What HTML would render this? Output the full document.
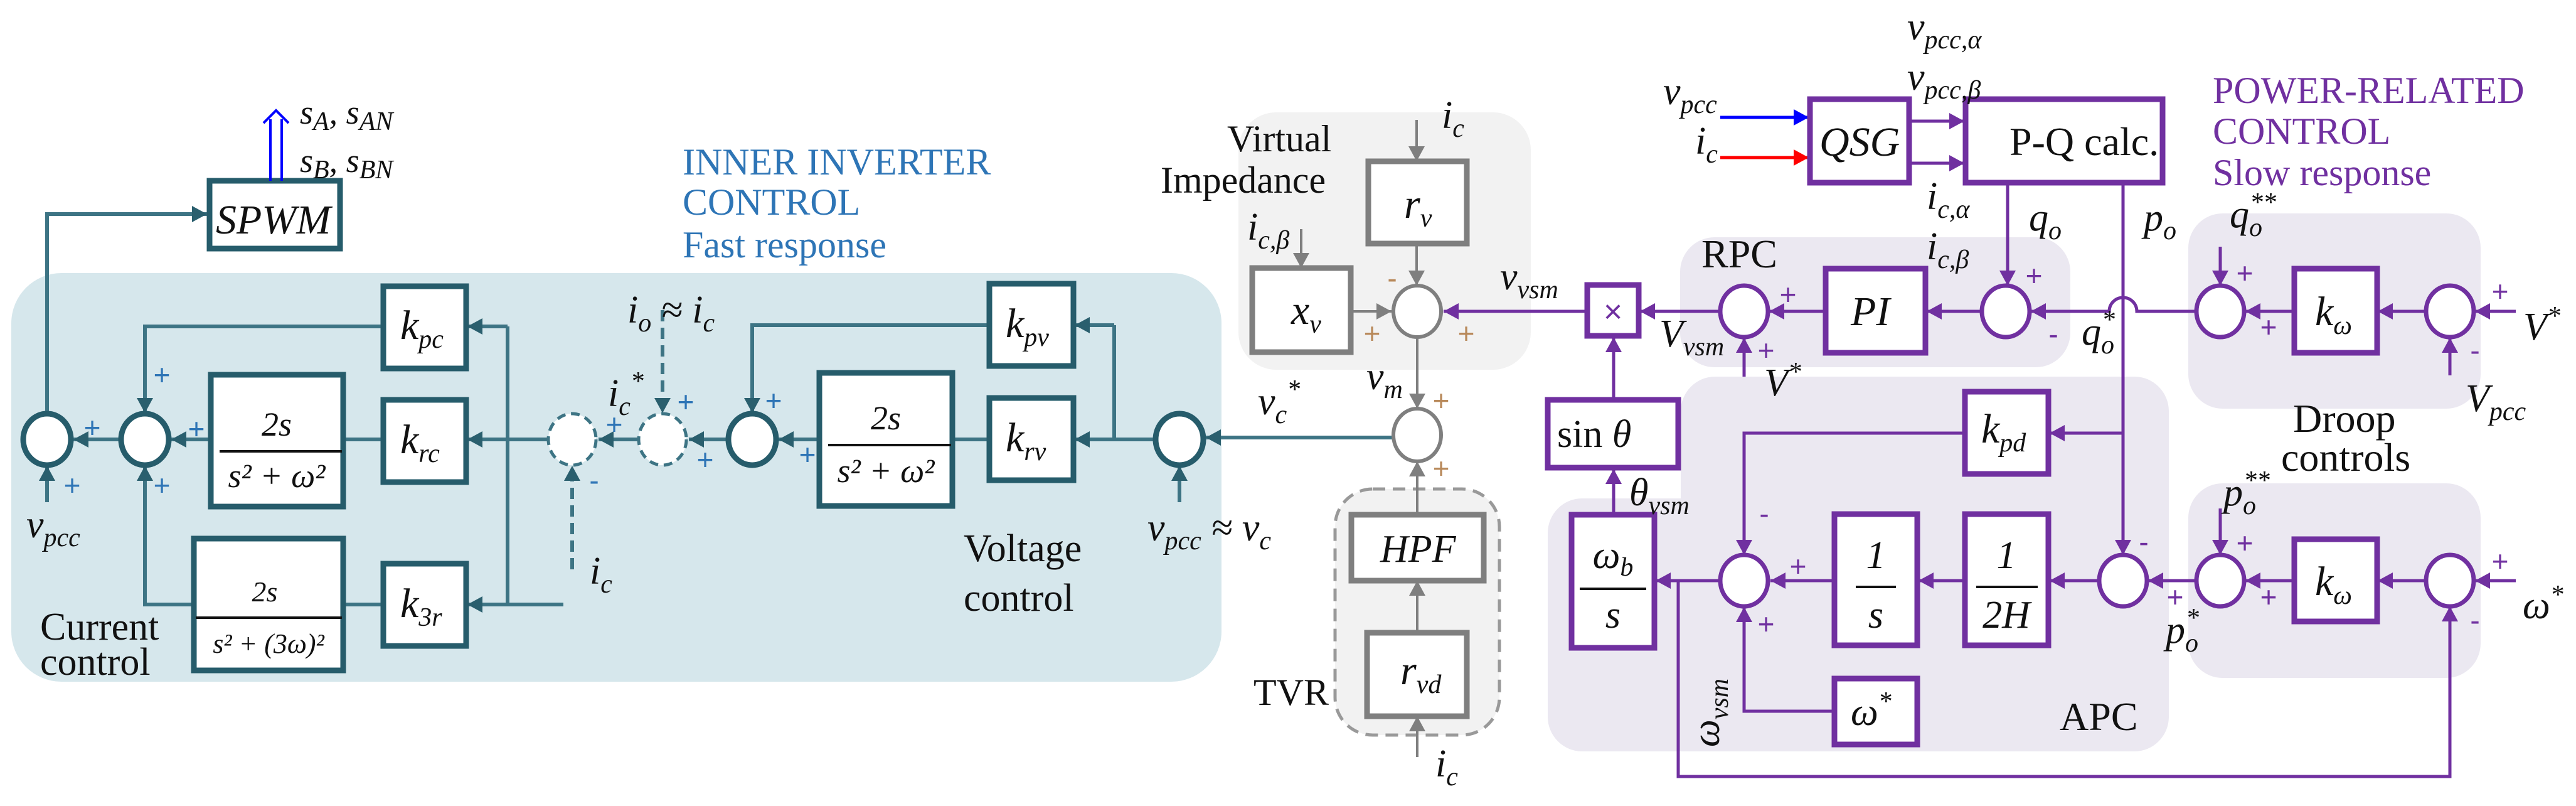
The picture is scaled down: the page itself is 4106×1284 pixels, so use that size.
<!DOCTYPE html>
<html><head><meta charset="utf-8"><style>
html,body{margin:0;padding:0;background:#fff;}
svg{display:block}
.m{font-family:"Liberation Serif",serif;font-style:italic;font-size:62px;fill:#111}
.s{font-size:42px}
.r{font-family:"Liberation Serif",serif;fill:#111}
.ps{font-family:"Liberation Sans",sans-serif;font-size:46px;text-anchor:middle}
</style></head><body>
<svg width="4106" height="1284" viewBox="0 0 4106 1284" xmlns="http://www.w3.org/2000/svg">
<defs>
<marker id="aT" markerUnits="userSpaceOnUse" markerWidth="26" markerHeight="26" refX="24" refY="13" orient="auto"><path d="M0,0 L24,13 L0,26 z" fill="#2a5f6e"/></marker>
<marker id="aG" markerUnits="userSpaceOnUse" markerWidth="26" markerHeight="26" refX="24" refY="13" orient="auto"><path d="M0,0 L24,13 L0,26 z" fill="#7f7f7f"/></marker>
<marker id="aP" markerUnits="userSpaceOnUse" markerWidth="26" markerHeight="26" refX="24" refY="13" orient="auto"><path d="M0,0 L24,13 L0,26 z" fill="#7030a0"/></marker>
<marker id="aB" markerUnits="userSpaceOnUse" markerWidth="26" markerHeight="26" refX="24" refY="13" orient="auto"><path d="M0,0 L24,13 L0,26 z" fill="#0000ff"/></marker>
<marker id="aR" markerUnits="userSpaceOnUse" markerWidth="26" markerHeight="26" refX="24" refY="13" orient="auto"><path d="M0,0 L24,13 L0,26 z" fill="#ff0000"/></marker>
</defs>

<!-- regions -->
<rect x="18" y="435" width="1929" height="651" rx="80" fill="#d6e7ec"/>
<rect x="1974" y="179" width="466" height="410" rx="60" fill="#f2f2f2"/>
<rect x="2128" y="779" width="262" height="392" rx="60" fill="#f2f2f2" stroke="#999" stroke-width="5" stroke-dasharray="20,12"/>
<rect x="2678" y="378" width="622" height="207" rx="55" fill="#ebe8f1"/>
<rect x="2679" y="600" width="778" height="597" rx="55" fill="#ebe8f1"/>
<rect x="2467" y="794" width="320" height="403" rx="55" fill="#ebe8f1"/>
<rect x="3488" y="340" width="466" height="311" rx="55" fill="#ebe8f1"/>
<rect x="3488" y="770" width="466" height="310" rx="55" fill="#ebe8f1"/>

<!-- titles -->
<g font-family="Liberation Serif, serif" font-size="60" fill="#2e75b6">
<text x="1088" y="278">INNER  INVERTER</text><text x="1088" y="342">CONTROL</text><text x="1088" y="410">Fast response</text></g>
<g font-family="Liberation Serif, serif" font-size="60" fill="#7030a0">
<text x="3527" y="164">POWER-RELATED</text><text x="3527" y="229">CONTROL</text><text x="3527" y="295">Slow response</text></g>

<!-- ============ INNER (teal) ============ -->
<g fill="none" stroke="#3d7484" stroke-width="6">
<polyline points="75,660 75,341 330,341" marker-end="url(#aT)"/>
<line x1="191" y1="700" x2="117" y2="700" marker-end="url(#aT)"/>
<line x1="336" y1="700" x2="273" y2="700" marker-end="url(#aT)"/>
<line x1="611" y1="700" x2="547" y2="700"/>
<polyline points="611,520 231,520 231,658" marker-end="url(#aT)"/>
<line x1="898" y1="963" x2="547" y2="963"/>
<polyline points="309,963 231,963 231,742" marker-end="url(#aT)"/>
<line x1="809" y1="520" x2="809" y2="963"/>
<line x1="809" y1="520" x2="745" y2="520" marker-end="url(#aT)"/>
<line x1="809" y1="963" x2="745" y2="963" marker-end="url(#aT)"/>
<line x1="872" y1="700" x2="745" y2="700" marker-end="url(#aT)"/>
<line x1="1016" y1="700" x2="954" y2="700" marker-end="url(#aT)"/>
<line x1="1159" y1="700" x2="1098" y2="700" marker-end="url(#aT)"/>
<line x1="912" y1="907" x2="912" y2="742" stroke-dasharray="18,10" marker-end="url(#aT)"/>
<line x1="1056" y1="494" x2="1056" y2="658" stroke-dasharray="18,10" marker-end="url(#aT)"/>
<line x1="1306" y1="700" x2="1241" y2="700" marker-end="url(#aT)"/>
<line x1="1577" y1="700" x2="1518" y2="700"/>
<polyline points="1577,518 1199,518 1199,658" marker-end="url(#aT)"/>
<line x1="1776" y1="518" x2="1776" y2="700"/>
<line x1="1776" y1="518" x2="1713" y2="518" marker-end="url(#aT)"/>
<line x1="1840" y1="700" x2="1713" y2="700" marker-end="url(#aT)"/>
<line x1="1880" y1="800" x2="1880" y2="742" marker-end="url(#aT)"/>
<line x1="75" y1="800" x2="75" y2="742" marker-end="url(#aT)"/>
<line x1="2219" y1="697" x2="1922" y2="697" marker-end="url(#aT)"/>
</g>
<g fill="#fff" stroke="#265c6b" stroke-width="9">
<rect x="334" y="288" width="208" height="108"/>
<rect x="611" y="456" width="132" height="131"/>
<rect x="611" y="637" width="132" height="131"/>
<rect x="611" y="898" width="132" height="131"/>
<rect x="336" y="597" width="211" height="210"/>
<rect x="309" y="858" width="238" height="210"/>
<rect x="1577" y="452" width="134" height="131"/>
<rect x="1577" y="634" width="134" height="131"/>
<rect x="1306" y="594" width="212" height="212"/>
<ellipse cx="75" cy="700" rx="38" ry="41"/>
<ellipse cx="231" cy="700" rx="38" ry="41"/>
<ellipse cx="1199" cy="700" rx="38" ry="41"/>
<ellipse cx="1880" cy="700" rx="38" ry="41"/>
</g>
<g fill="#fff" stroke="#3d7484" stroke-width="5" stroke-dasharray="14,9">
<ellipse cx="912" cy="700" rx="38" ry="41"/>
<ellipse cx="1056" cy="700" rx="38" ry="41"/>
</g>
<g stroke="#111" stroke-width="4">
<line x1="350" y1="719" x2="545" y2="719"/>
<line x1="312" y1="984" x2="545" y2="984"/>
<line x1="1320" y1="709" x2="1516" y2="709"/>
</g>
<!-- SPWM outputs -->
<g stroke="#0000ff" stroke-width="4" fill="none">
<line x1="431" y1="288" x2="431" y2="190"/><line x1="449" y1="288" x2="449" y2="190"/>
<polyline points="420,196 440,176 460,196"/>
</g>
<text class="m" x="344" y="372" style="font-size:66px">SPWM</text>
<text class="m" x="478" y="197" style="font-size:54px">s<tspan class="s" dy="10">A</tspan><tspan dy="-10">, s</tspan><tspan class="s" dy="10">AN</tspan></text>
<text class="m" x="478" y="274" style="font-size:54px">s<tspan class="s" dy="10">B</tspan><tspan dy="-10">, s</tspan><tspan class="s" dy="10">BN</tspan></text>
<text class="m" x="638" y="540" style="font-size:66px">k<tspan class="s" dy="14">pc</tspan></text>
<text class="m" x="638" y="722" style="font-size:66px">k<tspan class="s" dy="14">rc</tspan></text>
<text class="m" x="638" y="983" style="font-size:66px">k<tspan class="s" dy="14">3r</tspan></text>
<text class="m" x="1603" y="537" style="font-size:66px">k<tspan class="s" dy="14">pv</tspan></text>
<text class="m" x="1603" y="719" style="font-size:66px">k<tspan class="s" dy="14">rv</tspan></text>
<g class="m" style="font-size:54px" text-anchor="middle">
<text x="441" y="694">2s</text><text x="441" y="776">s² + ω²</text>
<text x="422" y="958" style="font-size:46px">2s</text><text x="428" y="1040" style="font-size:44px">s² + (3ω)²</text>
<text x="1412" y="684">2s</text><text x="1412" y="768">s² + ω²</text>
</g>
<text class="m" x="42" y="856">v<tspan class="s" dy="14">pcc</tspan></text>
<text class="m" x="1829" y="861">v<tspan class="s" dy="14">pcc</tspan><tspan dy="-14"> ≈ v</tspan><tspan class="s" dy="14">c</tspan></text>
<text class="m" x="1000" y="514">i<tspan class="s" dy="14">o</tspan><tspan dy="-14">  ≈ i</tspan><tspan class="s" dy="14">c</tspan></text>
<text class="m" x="969" y="647">i<tspan class="s" dy="14">c</tspan><tspan class="s" dy="-40">*</tspan></text>
<text class="m" x="940" y="930">i<tspan class="s" dy="14">c</tspan></text>
<g class="r" font-size="62"><text x="64" y="1019">Current</text><text x="64" y="1075">control</text></g>
<g class="r" font-size="62"><text x="1536" y="894">Voltage</text><text x="1536" y="973">control</text></g>
<g class="ps" fill="#2e75b6">
<text x="147" y="697">+</text><text x="115" y="789">+</text><text x="258" y="613">+</text><text x="313" y="699">+</text><text x="258" y="789">+</text>
<text x="979" y="692">+</text><text x="947" y="781">-</text><text x="1093" y="656">+</text><text x="1124" y="748">+</text>
<text x="1233" y="654">+</text><text x="1287" y="740">+</text>
</g>

<!-- ============ GRAY ============ -->
<g fill="none" stroke="#7f7f7f" stroke-width="4">
<line x1="2258" y1="191" x2="2258" y2="257" marker-end="url(#aG)"/>
<line x1="2258" y1="388" x2="2258" y2="455" marker-end="url(#aG)"/>
<line x1="2153" y1="496" x2="2218" y2="496" marker-end="url(#aG)"/>
<line x1="2074" y1="365" x2="2074" y2="427" marker-end="url(#aG)"/>
<line x1="2259" y1="537" x2="2259" y2="651" marker-end="url(#aG)"/>
<line x1="2259" y1="820" x2="2259" y2="735" marker-end="url(#aG)"/>
<line x1="2259" y1="1008" x2="2259" y2="925" marker-end="url(#aG)"/>
<line x1="2259" y1="1206" x2="2259" y2="1141" marker-end="url(#aG)"/>
</g>
<g fill="#fff" stroke="#7f7f7f" stroke-width="9">
<rect x="2181" y="257" width="157" height="131"/>
<rect x="1996" y="427" width="157" height="134"/>
<rect x="2154" y="820" width="211" height="105"/>
<rect x="2179" y="1008" width="159" height="133"/>
</g>
<g fill="#fff" stroke="#7f7f7f" stroke-width="6">
<ellipse cx="2259" cy="496" rx="38" ry="41"/>
<ellipse cx="2259" cy="693" rx="38" ry="42"/>
</g>
<g class="r" font-size="60" fill="#404040"><text x="1956" y="241">Virtual</text><text x="1850" y="307">Impedance</text><text x="1998" y="1123">TVR</text></g>
<text class="m" x="2238" y="347" style="font-size:66px">r<tspan class="s" dy="14">v</tspan></text>
<text class="m" x="2058" y="516" style="font-size:66px">x<tspan class="s" dy="14">v</tspan></text>
<text class="m" x="2200" y="895" style="font-size:62px">HPF</text>
<text class="m" x="2232" y="1090" style="font-size:66px">r<tspan class="s" dy="14">vd</tspan></text>
<text class="m" x="2298" y="204">i<tspan class="s" dy="14">c</tspan></text>
<text class="m" x="1988" y="382">i<tspan class="s" dy="14">c,β</tspan></text>
<text class="m" x="2288" y="1237">i<tspan class="s" dy="14">c</tspan></text>
<text class="m" x="2178" y="620">v<tspan class="s" dy="14">m</tspan></text>
<text class="m" x="2005" y="660">v<tspan class="s" dy="14">c</tspan><tspan class="s" dy="-40">*</tspan></text>
<g class="ps" fill="#b8895a">
<text x="2219" y="459">-</text><text x="2187" y="547">+</text><text x="2337" y="547">+</text>
<text x="2297" y="654">+</text><text x="2297" y="762">+</text>
</g>

<!-- ============ PURPLE ============ -->
<g fill="none" stroke="#7030a0" stroke-width="5">
<line x1="2530" y1="496" x2="2301" y2="496" marker-end="url(#aP)"/>
<line x1="2742" y1="496" x2="2614" y2="496" marker-end="url(#aP)"/>
<line x1="2572" y1="637" x2="2572" y2="537" marker-end="url(#aP)"/>
<line x1="2572" y1="820" x2="2572" y2="747" marker-end="url(#aP)"/>
<line x1="2910" y1="496" x2="2820" y2="496" marker-end="url(#aP)"/>
<line x1="2780" y1="600" x2="2780" y2="538" marker-end="url(#aP)"/>
<line x1="3157" y1="496" x2="3071" y2="496" marker-end="url(#aP)"/>
<path d="M3501,496 H3406 A22,22 0 0 0 3362,496 H3237" marker-end="url(#aP)"/>
<line x1="3200" y1="291" x2="3200" y2="455" marker-end="url(#aP)"/>
<line x1="3384" y1="291" x2="3384" y2="884" marker-end="url(#aP)"/>
<line x1="3384" y1="690" x2="3267" y2="690" marker-end="url(#aP)"/>
<polyline points="3132,690 2780,690 2780,884" marker-end="url(#aP)"/>
<line x1="2924" y1="925" x2="2822" y2="925" marker-end="url(#aP)"/>
<line x1="2742" y1="925" x2="2639" y2="925" marker-end="url(#aP)"/>
<line x1="3132" y1="925" x2="3058" y2="925" marker-end="url(#aP)"/>
<line x1="3346" y1="925" x2="3267" y2="925" marker-end="url(#aP)"/>
<polyline points="2924,1133 2780,1133 2780,967" marker-end="url(#aP)"/>
<polyline points="2675,925 2675,1237 3905,1237 3905,966" marker-end="url(#aP)"/>
<line x1="3501" y1="925" x2="3424" y2="925" marker-end="url(#aP)"/>
<line x1="3657" y1="925" x2="3579" y2="925" marker-end="url(#aP)"/>
<line x1="3867" y1="925" x2="3790" y2="925" marker-end="url(#aP)"/>
<line x1="4010" y1="925" x2="3945" y2="925" marker-end="url(#aP)"/>
<line x1="3539" y1="810" x2="3539" y2="884" marker-end="url(#aP)"/>
<line x1="3657" y1="496" x2="3579" y2="496" marker-end="url(#aP)"/>
<line x1="3867" y1="496" x2="3790" y2="496" marker-end="url(#aP)"/>
<line x1="4010" y1="496" x2="3945" y2="496" marker-end="url(#aP)"/>
<line x1="3539" y1="393" x2="3539" y2="455" marker-end="url(#aP)"/>
<line x1="3905" y1="598" x2="3905" y2="538" marker-end="url(#aP)"/>
<line x1="3043" y1="193" x2="3131" y2="193" marker-end="url(#aP)"/>
<line x1="3043" y1="260" x2="3131" y2="260" marker-end="url(#aP)"/>
</g>
<line x1="2742" y1="187" x2="2883" y2="187" stroke="#0000ff" stroke-width="5" marker-end="url(#aB)"/>
<line x1="2742" y1="251" x2="2883" y2="251" stroke="#ff0000" stroke-width="5" marker-end="url(#aR)"/>
<g fill="#fff" stroke="#7030a0" stroke-width="9">
<rect x="2885" y="158" width="158" height="133"/>
<rect x="3133" y="158" width="314" height="133"/>
<rect x="2530" y="454" width="82" height="81"/>
<rect x="2910" y="428" width="159" height="134"/>
<rect x="2467" y="637" width="208" height="108"/>
<rect x="2505" y="820" width="132" height="212"/>
<rect x="2924" y="819" width="132" height="209"/>
<rect x="3132" y="819" width="133" height="209"/>
<rect x="3132" y="624" width="133" height="131"/>
<rect x="2924" y="1081" width="132" height="105"/>
<rect x="3657" y="428" width="132" height="134"/>
<rect x="3657" y="859" width="132" height="131"/>
</g>
<g fill="#fff" stroke="#7030a0" stroke-width="7">
<ellipse cx="2780" cy="496" rx="38" ry="41"/>
<ellipse cx="3197" cy="496" rx="38" ry="41"/>
<ellipse cx="3539" cy="496" rx="38" ry="41"/>
<ellipse cx="3905" cy="496" rx="38" ry="41"/>
<ellipse cx="2780" cy="925" rx="38" ry="41"/>
<ellipse cx="3384" cy="925" rx="38" ry="41"/>
<ellipse cx="3539" cy="925" rx="38" ry="41"/>
<ellipse cx="3905" cy="925" rx="38" ry="41"/>
</g>
<g stroke="#111" stroke-width="4">
<line x1="2518" y1="938" x2="2624" y2="938"/>
<line x1="2958" y1="935" x2="3022" y2="935"/>
<line x1="3150" y1="935" x2="3248" y2="935"/>
</g>
<text x="2571" y="514" font-family="Liberation Sans,sans-serif" font-size="52" fill="#7030a0" text-anchor="middle">×</text>
<text class="m" x="2900" y="248" style="font-size:66px">QSG</text>
<text class="r" x="3203" y="247" font-size="64">P-Q calc.</text>
<text class="m" x="2950" y="518" style="font-size:66px">PI</text>
<text class="r" x="2482" y="712" font-size="62">sin <tspan font-style="italic">θ</tspan></text>
<g class="m" text-anchor="middle" style="font-size:62px">
<text x="2571" y="905">ω<tspan class="s" dy="12">b</tspan></text><text x="2571" y="1000">s</text>
<text x="2990" y="905">1</text><text x="2990" y="1000">s</text>
<text x="3198" y="905">1</text><text x="3198" y="1000">2H</text>
</g>
<text class="m" x="2950" y="1155" style="font-size:62px">ω<tspan class="s" dy="-24">*</tspan></text>
<text class="m" x="3158" y="705" style="font-size:66px">k<tspan class="s" dy="14">pd</tspan></text>
<text class="m" x="3690" y="518" style="font-size:66px">k<tspan class="s" dy="14">ω</tspan></text>
<text class="m" x="3690" y="948" style="font-size:66px">k<tspan class="s" dy="14">ω</tspan></text>
<text class="m" x="3040" y="63">v<tspan class="s" dy="14">pcc,α</tspan></text>
<text class="m" x="3040" y="143">v<tspan class="s" dy="14">pcc,β</tspan></text>
<text class="m" x="2651" y="166">v<tspan class="s" dy="14">pcc</tspan></text>
<text class="m" x="2702" y="245">i<tspan class="s" dy="14">c</tspan></text>
<text class="m" x="3071" y="333">i<tspan class="s" dy="14">c,α</tspan></text>
<text class="m" x="3071" y="413">i<tspan class="s" dy="14">c,β</tspan></text>
<text class="m" x="3234" y="367">q<tspan class="s" dy="14">o</tspan></text>
<text class="m" x="3417" y="367">p<tspan class="s" dy="14">o</tspan></text>
<text class="m" x="2391" y="461">v<tspan class="s" dy="14">vsm</tspan></text>
<text class="m" x="2645" y="552">V<tspan class="s" dy="14">vsm</tspan></text>
<text class="m" x="2812" y="630">V<tspan class="s" dy="-24">*</tspan></text>
<text class="m" x="3318" y="549">q<tspan class="s" dy="14">o</tspan><tspan class="s" dx="-20" dy="-40">*</tspan></text>
<text class="m" x="3554" y="362">q<tspan class="s" dy="14">o</tspan><tspan class="s" dx="-20" dy="-40">**</tspan></text>
<text class="m" x="3544" y="805">p<tspan class="s" dy="14">o</tspan><tspan class="s" dx="-20" dy="-40">**</tspan></text>
<text class="m" x="3452" y="1024">p<tspan class="s" dy="14">o</tspan><tspan class="s" dx="-20" dy="-40">*</tspan></text>
<text class="m" x="4022" y="541">V<tspan class="s" dy="-24">*</tspan></text>
<text class="m" x="3930" y="655">V<tspan class="s" dy="14">pcc</tspan></text>
<text class="m" x="4021" y="985">ω<tspan class="s" dy="-24">*</tspan></text>
<text class="m" x="2597" y="805">θ<tspan class="s" dy="14">vsm</tspan></text>
<text class="m" transform="translate(2740,1190) rotate(-90)" x="0" y="0">ω<tspan class="s" dy="14">vsm</tspan></text>
<g class="r" font-size="64"><text x="2712" y="426">RPC</text><text x="3283" y="1163">APC</text><text x="3655" y="688">Droop</text><text x="3636" y="750">controls</text></g>
<g class="ps" fill="#7030a0">
<text x="2850" y="485">+</text><text x="2815" y="574">+</text>
<text x="3242" y="455">+</text><text x="3273" y="548">-</text>
<text x="3578" y="451">+</text><text x="3616" y="537">+</text>
<text x="3985" y="480">+</text><text x="3945" y="574">-</text>
<text x="2812" y="834">-</text><text x="2866" y="918">+</text><text x="2815" y="1010">+</text>
<text x="3417" y="879">-</text><text x="3467" y="967">+</text>
<text x="3578" y="881">+</text><text x="3616" y="967">+</text>
<text x="3985" y="910">+</text><text x="3945" y="1004">-</text>
</g>
</svg>
</body></html>
